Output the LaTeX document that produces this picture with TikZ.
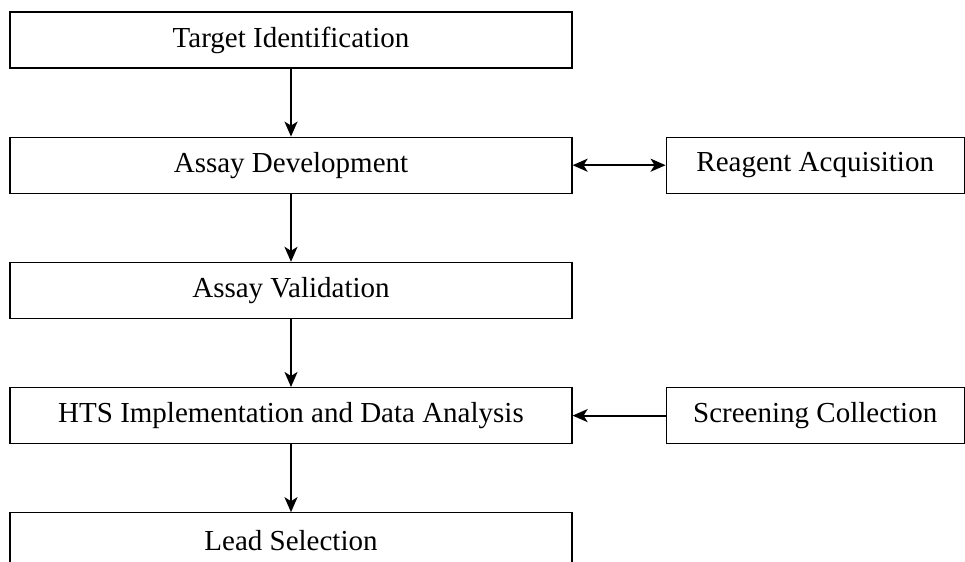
\documentclass[tikz,border=0pt]{standalone}
\usepackage{fontspec}
\setmainfont{Liberation Serif}
\usepackage{tikz}
\usetikzlibrary{arrows.meta,positioning}

\begin{document}
\begin{tikzpicture}[
    stagebox/.style={draw,line width=0.6pt,minimum width=281pt,minimum height=28pt,
        inner sep=0pt,font=\fontsize{14.5}{17}\selectfont},
    sidebox/.style={stagebox,minimum width=149pt},
    tip/.tip={Stealth[length=7.5pt,width=6.5pt,inset=2pt]},
    flow/.style={-tip,line width=1pt},
    node distance=34pt and 46.5pt
]
    % Page frame
    \useasboundingbox (0,0) rectangle (482.5pt,-281pt);

    % Main column
    \node[stagebox] (target) at (145.5pt,-20pt) {Target Identification};
    \node[stagebox,below=of target] (devel) {Assay Development};
    \node[stagebox,below=of devel] (valid) {Assay Validation};
    \node[stagebox,below=of valid] (hts) {HTS Implementation and Data Analysis};
    \node[stagebox,below=of hts] (lead) {Lead Selection};

    % Side inputs
    \node[sidebox,right=of devel] (reagent) {Reagent Acquisition};
    \node[sidebox,right=of hts] (collect) {Screening Collection};

    % Connectors
    \draw[flow] (target) -- (devel);
    \draw[flow] (devel) -- (valid);
    \draw[flow] (valid) -- (hts);
    \draw[flow] (hts) -- (lead);
    \draw[flow,tip-tip] (devel) -- (reagent);
    \draw[flow] (collect) -- (hts);
\end{tikzpicture}
\end{document}
